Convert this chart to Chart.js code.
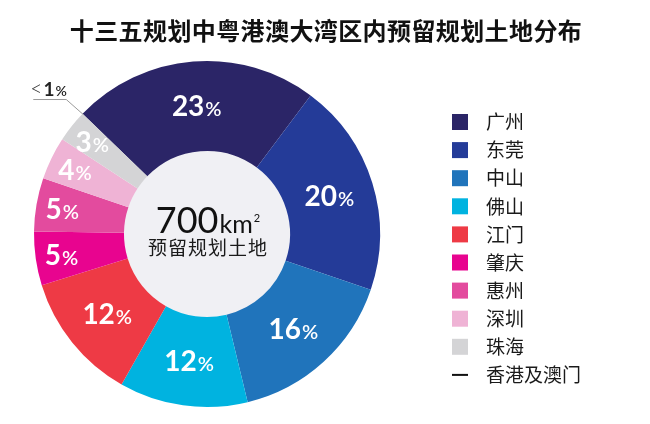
<!DOCTYPE html>
<html>
<head>
<meta charset="utf-8">
<script src="https://cdn.jsdelivr.net/npm/chart.js@4.4.0/dist/chart.umd.min.js"></script>
<style>
html,body{margin:0;padding:0;background:#fff;}
#wrap{width:650px;height:424px;position:relative;}
</style>
</head>
<body>
<div id="wrap"><canvas id="c" width="650" height="424"></canvas></div>
<script>
const titleText = '十三五规划中粤港澳大湾区内预留规划土地分布';
const categories = ['广州','东莞','中山','佛山','江门','肇庆','惠州','深圳','珠海','香港及澳门'];
const shares = [23, 20, 16, 12, 12, 5, 5, 4, 3, 0];
const sliceColors = ['#2b2567','#243b98','#2074bb','#00b3e0','#ee3a45','#e8048f','#e34b9e','#efb3d5','#d4d4d6','#231f20'];
const centerValue = '700';
const centerUnit = 'km';
const centerCaption = '预留规划土地';

const CJK = '"Noto Sans CJK SC", "Noto Sans", sans-serif';
const LAT = 'Lato, "Open Sans", sans-serif';

function drawPieces(ctx, pieces, cx, baseY, align) {
  let total = 0;
  pieces.forEach(p => { ctx.font = p.font; p.w = ctx.measureText(p.t).width; total += p.w + (p.gap || 0); });
  let x = align === 'left' ? cx : cx - total / 2;
  pieces.forEach(p => {
    ctx.font = p.font;
    ctx.fillStyle = p.color;
    ctx.textAlign = 'left';
    ctx.textBaseline = 'alphabetic';
    ctx.fillText(p.t, x, baseY + (p.dy || 0));
    x += p.w + (p.gap || 0);
  });
}

const decorPlugin = {
  id: 'decor',
  beforeDatasetsDraw(chart) {
    const arc = chart.getDatasetMeta(0).data[0];
    if (!arc) return;
    const ctx = chart.ctx;
    ctx.save();
    ctx.beginPath();
    ctx.arc(arc.x, arc.y, arc.innerRadius + 0.5, 0, Math.PI * 2);
    ctx.fillStyle = '#f0f0f4';
    ctx.fill();
    ctx.restore();
  },
  afterDatasetsDraw(chart) {
    const ctx = chart.ctx;
    const meta = chart.getDatasetMeta(0);
    ctx.save();
    meta.data.forEach((arc, i) => {
      const v = shares[i];
      const p = arc.getProps(['x','y','startAngle','endAngle','innerRadius','outerRadius'], true);
      const mid = (p.startAngle + p.endAngle) / 2;
      if (v < 1) {
        // leader line annotation for the "<1%" share
        const r0 = p.outerRadius - 1;
        const sx = p.x + Math.cos(mid) * r0, sy = p.y + Math.sin(mid) * r0;
        const ex = sx - 17, ey = sy - 15;
        const fx = ex - 33;
        ctx.beginPath();
        ctx.moveTo(sx, sy); ctx.lineTo(ex, ey); ctx.lineTo(fx, ey);
        ctx.strokeStyle = '#9a9a9a';
        ctx.lineWidth = 1;
        ctx.stroke();
        drawPieces(ctx, [
          {t:'<', font:'300 21px ' + LAT, color:'#333', gap:1},
          {t:'1', font:'700 19px ' + LAT, color:'#222', gap:1},
          {t:'%', font:'600 14px ' + LAT, color:'#222'}
        ], fx - 3, ey - 4, 'left');
        return;
      }
      const r = v <= 5 ? p.outerRadius - 26 : (p.innerRadius + p.outerRadius) / 2;
      const lx = p.x + Math.cos(mid) * r, ly = p.y + Math.sin(mid) * r;
      drawPieces(ctx, [
        {t:String(v), font:'700 28px ' + LAT, color:'#fff', gap:1},
        {t:'%', font:'600 20px ' + LAT, color:'#fff'}
      ], lx, ly + 10, 'center');
    });

    // center text
    const a0 = meta.data[0];
    if (a0) {
      drawPieces(ctx, [
        {t:centerValue, font:'400 36px ' + LAT, color:'#111', gap:1},
        {t:centerUnit, font:'400 25px ' + LAT, color:'#111', gap:1},
        {t:'2', font:'400 11px ' + LAT, color:'#111', dy:-11}
      ], a0.x + 1, a0.y - 1, 'center');
      ctx.font = '400 19px ' + CJK;
      ctx.fillStyle = '#1a1a1a';
      ctx.textAlign = 'center';
      ctx.textBaseline = 'middle';
      ctx.letterSpacing = '1px';
      ctx.fillText(centerCaption, a0.x + 1, a0.y + 14);
      ctx.letterSpacing = '0px';
    }
    ctx.restore();
  },
  afterDraw(chart) {
    const ctx = chart.ctx;
    ctx.save();
    // title
    ctx.font = '700 24px ' + CJK;
    ctx.fillStyle = '#111';
    ctx.textAlign = 'center';
    ctx.textBaseline = 'middle';
    ctx.letterSpacing = '0.4px';
    ctx.fillText(titleText, 326, 31);
    ctx.letterSpacing = '0px';
    // legend
    const lx = 452, ly = 122, step = 28.1;
    categories.forEach((name, i) => {
      const y = ly + i * step;
      if (shares[i] < 1) {
        ctx.fillStyle = '#111';
        ctx.fillRect(lx, y - 1, 16, 2);
      } else {
        ctx.fillStyle = sliceColors[i];
        ctx.fillRect(lx, y - 8, 16, 16);
      }
      ctx.font = '400 19px ' + CJK;
      ctx.fillStyle = '#1a1a1a';
      ctx.textAlign = 'left';
      ctx.textBaseline = 'middle';
      ctx.fillText(name, 486, y);
    });
    ctx.restore();
  }
};

new Chart(document.getElementById('c'), {
  type: 'doughnut',
  data: {
    labels: categories,
    datasets: [{
      data: shares,
      backgroundColor: sliceColors,
      borderWidth: 0,
      hoverOffset: 0
    }]
  },
  options: {
    responsive: false,
    animation: false,
    devicePixelRatio: 1,
    rotation: -46,
    cutout: '48%',
    layout: { padding: { left: 34, right: 270, top: 61, bottom: 17 } },
    plugins: {
      legend: { display: false },
      title: { display: false },
      tooltip: { enabled: false }
    }
  },
  plugins: [decorPlugin]
});
</script>
</body>
</html>
